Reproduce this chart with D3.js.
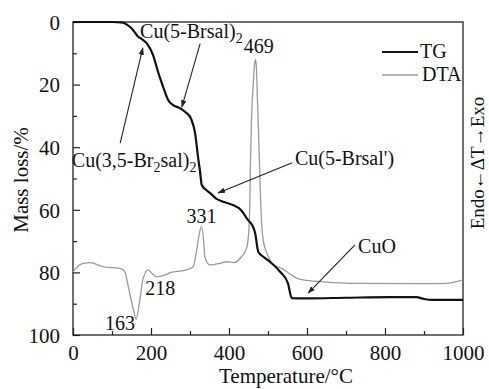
<!DOCTYPE html>
<html>
<head>
<meta charset="utf-8">
<script src="https://cdn.jsdelivr.net/npm/d3@7"></script>
<style>
  body { margin: 0; background: #fff; }
  svg text { font-family: "Times New Roman", "Liberation Serif", Tinos, "Nimbus Roman", "Noto Serif", "DejaVu Serif", serif !important; fill: #111; }
</style>
</head>
<body>
<svg id="chart" width="489" height="389"></svg>
<script>
// TG curve: [temperature °C, mass loss %]
var tgData = [
  [0, 0], [100, 0], [128, 0.2], [140, 1], [150, 2], [160, 3.6], [167, 4.7], [176, 5.4],
  [185, 6.3], [192, 7.3], [205, 10.5], [218, 15.9], [231, 20.7], [244, 24.9], [256, 26.5],
  [274, 27.5], [291, 29.1], [303, 31], [313, 35.5], [321, 43.5], [326, 48], [330, 52],
  [340, 53.5], [351, 54.6], [368, 56.5], [385, 57.4], [410, 58.5], [430, 60], [449, 63.3],
  [460, 65], [467, 67.4], [475, 73.4], [490, 75.2], [505, 76.6], [531, 79.8], [551, 83.4],
  [561, 88.2], [600, 88.3], [700, 88.1], [813, 87.9], [880, 87.9], [900, 88.5], [923, 88.8],
  [1000, 88.8]
];

// DTA curve: [temperature °C, signal (a.u., up = exo)]
var dtaData = [
  [0, 20.2], [15, 22.2], [27, 22.9], [44, 23.1], [78, 21.8], [121, 21.3], [133, 20.2],
  [142, 15.4], [155, 8], [162, 5], [170, 10.1], [180, 18.1], [193, 20.8], [202, 19.7],
  [214, 18.6], [236, 19.2], [249, 19.9], [291, 20.8], [308, 21.8], [317, 27], [324, 32.5],
  [330, 34.6], [335, 30], [338, 25], [351, 22.4], [377, 22.9], [394, 23.4], [411, 23.1],
  [432, 25], [445, 27.7], [450, 32], [453, 40], [455, 55], [458, 70], [462, 80], [466, 87],
  [468, 88], [470, 86], [473, 75], [477, 60], [481, 43], [486, 32], [493, 27.5], [501, 25],
  [514, 22.4], [535, 21.3], [556, 19.5], [573, 18.2], [590, 17.6], [642, 17], [727, 16.5],
  [900, 16.4], [958, 16.5], [980, 17], [1000, 17.6]
];

var xTicks = [0, 200, 400, 600, 800, 1000];
var yTicks = [0, 20, 40, 60, 80, 100];
var xMinor = [100, 300, 500, 700, 900];
var yMinor = [10, 30, 50, 70, 90];

var svg = d3.select("#chart"),
    margin = {top: 22, right: 26, bottom: 54, left: 73},
    width = +svg.attr("width") - margin.left - margin.right,
    height = +svg.attr("height") - margin.top - margin.bottom,
    g = svg.append("g").attr("transform", "translate(" + margin.left + "," + margin.top + ")");

var x = d3.scaleLinear().domain([0, 1000]).range([0, width]);
var y = d3.scaleLinear().domain([0, 100]).range([0, height]);
var yDta = d3.scaleLinear().domain([0, 100]).range([height, 0]);

svg.append("defs").append("marker")
    .attr("id", "arr")
    .attr("viewBox", "0 0 10 10")
    .attr("refX", 9).attr("refY", 5)
    .attr("markerWidth", 7).attr("markerHeight", 7)
    .attr("orient", "auto")
  .append("path")
    .attr("d", "M0,1.5L10,5L0,8.5Z")
    .attr("fill", "#222");

// axes with inward ticks
var xAxis = g.append("g")
    .attr("transform", "translate(0," + height + ")")
    .call(d3.axisBottom(x).tickValues(xTicks).tickFormat(d3.format("d"))
      .tickSizeInner(-7).tickSizeOuter(0).tickPadding(10));
var xAxisMinor = g.append("g")
    .attr("transform", "translate(0," + height + ")")
    .call(d3.axisBottom(x).tickValues(xMinor).tickSize(-4).tickFormat(""));
var yAxis = g.append("g")
    .call(d3.axisLeft(y).tickValues(yTicks).tickSizeInner(-7).tickSizeOuter(0).tickPadding(13));
var yAxisMinor = g.append("g")
    .call(d3.axisLeft(y).tickValues(yMinor).tickSize(-4).tickFormat(""));

g.selectAll(".domain").remove();
g.selectAll(".tick line").attr("stroke", "#222").attr("stroke-width", 1.2);
g.selectAll(".tick text")
    .attr("font-size", 21)
    .attr("fill", "#111");
yAxis.selectAll(".tick text").attr("dy", "0.35em");

g.append("rect")
    .attr("width", width)
    .attr("height", height)
    .attr("fill", "none")
    .attr("stroke", "#222")
    .attr("stroke-width", 1.3);

var line = d3.line()
    .x(function(d) { return x(d[0]); })
    .y(function(d) { return y(d[1]); })
    .curve(d3.curveMonotoneX);

var lineDta = d3.line()
    .x(function(d) { return x(d[0]); })
    .y(function(d) { return yDta(d[1]); })
    .curve(d3.curveMonotoneX);

g.append("path")
    .datum(dtaData)
    .attr("fill", "none")
    .attr("stroke", "#9a9a9a")
    .attr("stroke-width", 1.3)
    .attr("d", lineDta);

g.append("path")
    .datum(tgData)
    .attr("fill", "none")
    .attr("stroke", "#111")
    .attr("stroke-width", 2.2)
    .attr("d", line);

// annotations
function label(t, v, parts, size) {
  var txt = g.append("text")
      .attr("x", x(t))
      .attr("y", y(v))
      .attr("font-size", size || 20);
  parts.forEach(function(p) {
    var s = txt.append("tspan").text(p[0]);
    if (p[1]) s.attr("font-size", (size || 20) * 0.7).attr("dy", 5);
    else if (p[2]) s.attr("dy", -5);
  });
}
function arrow(t1, v1, t2, v2) {
  g.append("line")
      .attr("x1", x(t1)).attr("y1", y(v1))
      .attr("x2", x(t2)).attr("y2", y(v2))
      .attr("stroke", "#222")
      .attr("stroke-width", 1.1)
      .attr("marker-end", "url(#arr)");
}

label(172, 5.1, [["Cu(5-Brsal)"], ["2", true]]);
arrow(326, 6.9, 279, 27.2);
label(438, 9.9, [["469"]]);
label(-3, 46.3, [["Cu(3,5-Br"], ["2", true], ["sal)", false, true], ["2", true]]);
arrow(121, 38.7, 179, 8.3);
label(569, 45.7, [["Cu(5-Brsal')"]]);
arrow(562, 45, 372, 54.6);
label(731, 73.8, [["CuO"]]);
arrow(723, 71.2, 603, 86.6);
label(291, 64.2, [["331"]]);
label(185, 87.2, [["218"]]);
label(82, 98.4, [["163"]]);

// legend
var legend = g.append("g").attr("transform", "translate(" + (width - 81) + ",30)");
legend.append("line").attr("x1", 0).attr("x2", 36).attr("y1", 0).attr("y2", 0)
    .attr("stroke", "#111").attr("stroke-width", 2.2);
legend.append("text").attr("x", 38).attr("y", 6).attr("font-size", 20).text("TG");
legend.append("line").attr("x1", 0).attr("x2", 36).attr("y1", 23).attr("y2", 23)
    .attr("stroke", "#9a9a9a").attr("stroke-width", 1.3);
legend.append("text").attr("x", 40).attr("y", 29).attr("font-size", 20).text("DTA");

// axis titles
svg.append("text")
    .attr("x", margin.left + width / 2 + 18)
    .attr("y", 383)
    .attr("text-anchor", "middle")
    .attr("font-size", 21)
    .text("Temperature/°C");

svg.append("text")
    .attr("transform", "translate(28,180)rotate(-90)")
    .attr("text-anchor", "middle")
    .attr("font-size", 21)
    .text("Mass loss/%");

svg.append("text")
    .attr("transform", "translate(484,163)rotate(-90)")
    .attr("text-anchor", "middle")
    .attr("font-size", 19)
    .text("Endo\u2190\u0394T\u2192Exo");
</script>
</body>
</html>
